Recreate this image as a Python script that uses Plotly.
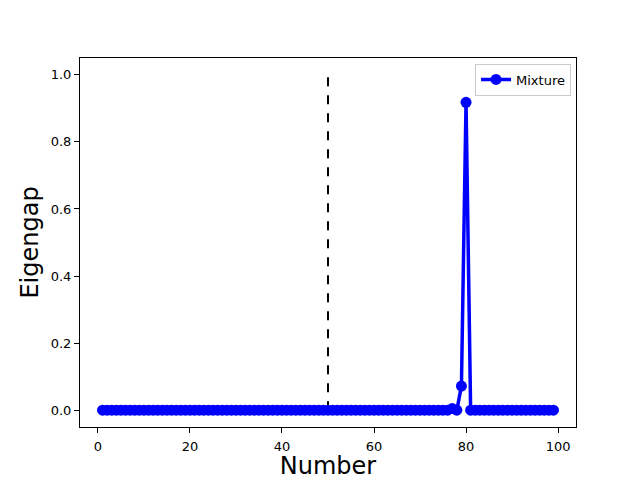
import plotly.graph_objects as go

numbers = list(range(1, 100))
eigengap = [0.0] * 99
eigengap[76] = 0.005   # x = 77
eigengap[78] = 0.072   # x = 79
eigengap[79] = 0.918   # x = 80

vline_x = [50, 50]
vline_y = [0, 1]

fig = go.Figure()
fig.add_trace(go.Scatter(x=vline_x, y=vline_y, mode="lines",
                         line=dict(color="black", width=2, dash="dash"),
                         showlegend=False, hoverinfo="skip"))
fig.add_trace(go.Scatter(x=numbers, y=eigengap, mode="lines+markers", name="Mixture",
                         line=dict(color="blue", width=3.5),
                         marker=dict(color="blue", size=11)))

axis_common = dict(showline=True, linecolor="black", linewidth=1, mirror=True,
                   ticks="outside", ticklen=5, tickcolor="black", showgrid=False,
                   zeroline=False, automargin=False,
                   tickfont=dict(family="DejaVu Sans", size=13, color="black"))

fig.update_layout(
    width=632, height=472,
    margin=dict(l=72, r=64, t=50, b=53),
    plot_bgcolor="white", paper_bgcolor="white",
    xaxis=dict(range=[-3.9, 103.9], tickvals=[0, 20, 40, 60, 80, 100],
               ticklabelstandoff=2,
               title=dict(text="Number", font=dict(family="DejaVu Sans", size=24, color="black"), standoff=2),
               **axis_common),
    yaxis=dict(range=[-0.05, 1.05], tickvals=[0, 0.2, 0.4, 0.6, 0.8, 1.0],
               tickformat=".1f",
               title=dict(text="Eigengap", font=dict(family="DejaVu Sans", size=24, color="black"), standoff=5),
               **axis_common),
    legend=dict(x=0.99, y=0.985, xanchor="right", yanchor="top",
                bordercolor="#cccccc", borderwidth=1, bgcolor="rgba(255,255,255,0.8)",
                font=dict(family="DejaVu Sans", size=13, color="black")),
)

fig.write_html("out.html")
